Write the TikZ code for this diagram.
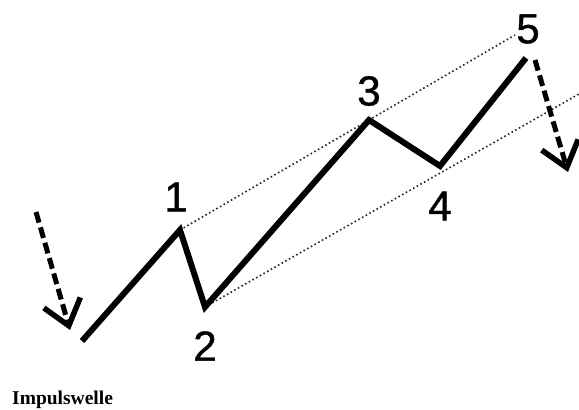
\documentclass[tikz,border=0pt]{standalone}
\usepackage{fontspec}
\setmainfont{Liberation Serif}
\newfontfamily\wavefont[FakeBold=1]{Liberation Sans}
\usetikzlibrary{positioning,
                arrows.meta}

\begin{document}
\begin{tikzpicture}[x=1pt,y=-1pt]

%--------------------------------------------------
% STYLES
%--------------------------------------------------

\tikzset{
wavelabel/.style={
inner sep=0pt,
font=\wavefont\fontsize{42}{42}\selectfont
},
waveline/.style={
line width=6pt,
line join=miter,
line cap=butt
},
channel/.style={
line width=1.6pt,
dash pattern=on 1.6pt off 2.6pt,
black!85
},
turnarrow/.style={
line width=5pt,
dash pattern=on 11pt off 5pt,
-{Straight Barb[length=24pt,width=38pt,line width=5.5pt]}
}
}

%--------------------------------------------------
% FRAME
%--------------------------------------------------

\useasboundingbox (0,0) rectangle (579,410);

%--------------------------------------------------
% WAVE POINTS
%--------------------------------------------------

\coordinate (w0) at (82,341);
\coordinate (w1) at (180,230);
\coordinate (w2) at (205,307);
\coordinate (w3) at (369,120);
\coordinate (w4) at (440,166);
\coordinate (w5) at (526,58);

\coordinate (topend) at (515,35);
\coordinate (lowend) at (579,94);

%--------------------------------------------------
% CHANNEL
%--------------------------------------------------

\draw[channel] (w1) -- (topend);
\draw[channel] (w2) -- (lowend);

%--------------------------------------------------
% IMPULSE
%--------------------------------------------------

\draw[waveline] (w0) -- (w1) -- (w2) -- (w3) -- (w4) -- (w5);

%--------------------------------------------------
% LABELS
%--------------------------------------------------

\node[wavelabel] (n1) at (176,197) {1};
\node[wavelabel] (n2) at (205,346) {2};
\node[wavelabel] (n3) at (369,91) {3};
\node[wavelabel] (n4) at (440,206) {4};
\node[wavelabel] (n5) at (528,29) {5};

%--------------------------------------------------
% ARROWS
%--------------------------------------------------

\coordinate (inbeg) at (36,212);
\coordinate (intip) at (70,330);
\coordinate (outbeg) at (535,60);
\coordinate (outtip) at (568,172);

\draw[turnarrow] (inbeg) -- (intip);
\draw[turnarrow] (outbeg) -- (outtip);

%--------------------------------------------------
% CAPTION
%--------------------------------------------------

\node[anchor=base west,inner sep=0pt,
font=\bfseries\fontsize{19.5}{21}\selectfont]
(caption) at (12,404) {Impulswelle};

\end{tikzpicture}
\end{document}
